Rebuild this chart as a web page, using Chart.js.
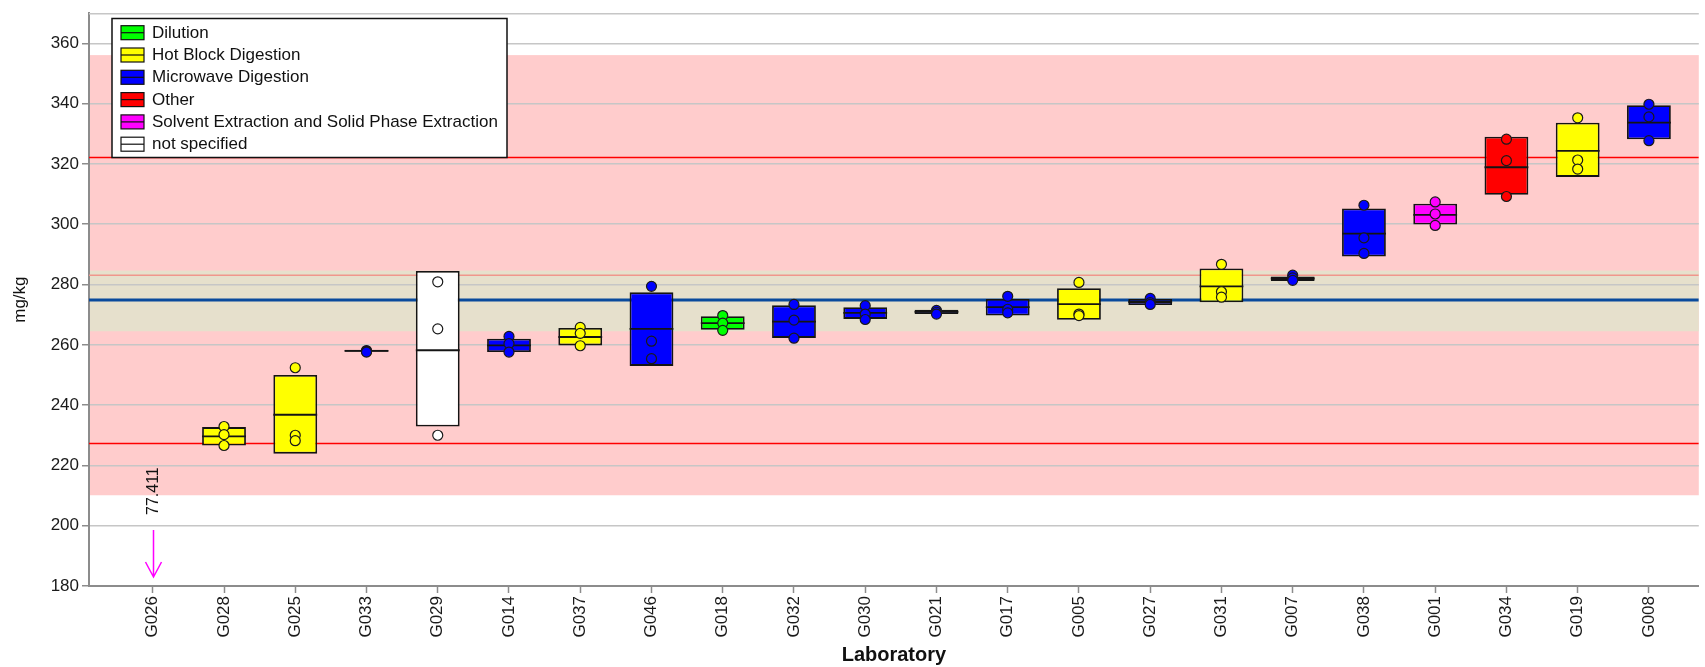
<!DOCTYPE html>
<html>
<head>
<meta charset="utf-8">
<script src="https://cdn.jsdelivr.net/npm/chart.js@4.4.1/dist/chart.umd.min.js"></script>
<style>
  html, body { margin: 0; padding: 0; background: #ffffff; }
  #wrap { width: 1705px; height: 667px; }
</style>
</head>
<body>
<div id="wrap"><canvas id="chart" width="1705" height="667"></canvas></div>
<script>
// Laboratories in plotting order
const labs = ['G026','G028','G025','G033','G029','G014','G037','G046','G018','G032','G030',
              'G021','G017','G005','G027','G031','G007','G038','G001','G034','G019','G008'];

// Sample preparation methods and their colours
const methods = ['Dilution', 'Hot Block Digestion', 'Microwave Digestion', 'Other',
                 'Solvent Extraction and Solid Phase Extraction', 'not specified'];
const methodColors = ['#00ff00', '#ffff00', '#0000ff', '#ff0000', '#ff00ff', '#ffffff'];

// Method index for each laboratory (null = no box drawn)
const labMethod = [null, 1, 1, 2, 5, 2, 1, 2, 0, 2, 2, 2, 2, 1, 2, 1, 2, 2, 4, 3, 1, 2];

// Box: mean and mean +/- standard deviation (mg/kg)
const boxLow  = [null, 226.6, 223.9, 257.7, 232.9, 257.6, 259.8, 253.0, 265.0, 262.3, 268.6,
                 270.2, 269.7, 268.3, 273.2, 274.1, 281.2, 289.3, 299.9, 309.8, 315.7, 328.2];
const boxMean = [null, 229.6, 236.8, 258.0, 258.2, 259.8, 262.6, 265.3, 267.2, 267.7, 270.6,
                 270.9, 272.5, 273.5, 274.2, 279.4, 282.0, 296.9, 303.1, 318.9, 324.3, 333.7];
const boxHigh = [null, 232.7, 250.0, 258.4, 284.5, 262.0, 265.6, 277.4, 269.5, 273.1, 272.5,
                 271.6, 275.2, 278.8, 275.2, 285.3, 282.7, 305.2, 306.8, 329.0, 333.7, 339.5];

// Individual replicate results (mg/kg)
const replicate1 = [null, 232.9, 252.4, 258.1, 280.9, 262.8, 265.8, 279.4, 269.7, 273.4, 273.0,
                    271.4, 276.1, 280.7, 275.4, 286.7, 283.1, 306.3, 307.4, 328.2, 335.3, 339.8];
const replicate2 = [null, 230.2, 230.0, 257.8, 265.3, 260.4, 263.8, 261.2, 267.2, 268.2, 270.2,
                    270.8, 271.8, 270.2, 274.0, 277.6, 282.2, 295.5, 303.4, 321.1, 321.3, 335.6];
const replicate3 = [null, 226.6, 228.2, 257.6, 230.0, 257.6, 259.7, 255.4, 264.8, 262.2, 268.4,
                    270.2, 270.6, 269.7, 273.4, 275.8, 281.4, 290.3, 299.6, 309.2, 318.3, 327.7];

// Results that fall outside the value axis
const offScaleLabs   = ['G026'];
const offScaleValues = [77.411];

// Assigned value, limits and shaded ranges (mg/kg)
const assignedValue   = 274.9;
const uncertaintyBand = [264.5, 284.6];
const uncertaintyEdge = 283.1;
const limitLines      = [227.3, 322.1];
const outerBand       = [210.1, 356.1];

// Value axis
const yMin = 180, yMax = 370;
const yTickValues = [180, 200, 220, 240, 260, 280, 300, 320, 340, 360];

// Index axis range
const xMin = -0.895, xMax = 21.7;
const BOX_FRACTION = 0.615;

const FONT = '"Liberation Sans", Arial, Helvetica, sans-serif';
Chart.defaults.font.family = FONT;

// ---- datasets ----
function refLine(value, color, width) {
  return {
    type: 'line', order: 10,
    data: [{ x: xMin, y: value }, { x: xMax, y: value }],
    borderColor: color, borderWidth: width, pointRadius: 0, fill: false, tension: 0
  };
}

const datasets = [];
datasets.push(refLine(uncertaintyEdge, '#f0968c', 1.5));
datasets.push(refLine(limitLines[0], '#ff0000', 1.5));
datasets.push(refLine(limitLines[1], '#ff0000', 1.5));
datasets.push(refLine(assignedValue, '#0a4a9c', 3));

methods.forEach((m, mi) => {
  const data = [];
  labs.forEach((lab, i) => {
    if (labMethod[i] === mi && boxLow[i] != null) data.push({ x: i, y: [boxLow[i], boxHigh[i]] });
  });
  datasets.push({
    type: 'bar', label: m, order: 5, data,
    backgroundColor: methodColors[mi], borderColor: '#141414', borderWidth: 1.8,
    borderSkipped: false, grouped: false, barPercentage: BOX_FRACTION, categoryPercentage: 1
  });
});

const meanData = [];
labs.forEach((lab, i) => { if (boxMean[i] != null) meanData.push({ x: i, y: boxMean[i] }); });
datasets.push({
  type: 'scatter', order: 3, data: meanData,
  pointStyle: 'line',
  pointRadius: (c) => {
    const sx = c.chart.scales.x;
    return Math.abs(sx.getPixelForValue(1) - sx.getPixelForValue(0)) * BOX_FRACTION / 2;
  },
  pointHoverRadius: 0,
  borderColor: '#141414', borderWidth: 1.8, showLine: false
});

const repData = [];
labs.forEach((lab, i) => {
  [replicate1, replicate2, replicate3].forEach(r => {
    if (r[i] != null) repData.push({ x: i, y: r[i], m: labMethod[i] });
  });
});
datasets.push({
  type: 'scatter', order: 1, data: repData,
  pointStyle: 'circle', pointRadius: 5, pointHoverRadius: 5,
  backgroundColor: (c) => c.raw ? methodColors[c.raw.m] : '#fff',
  borderColor: '#1a1a1a', borderWidth: 1.2, showLine: false
});

// ---- plugins ----
const bandsPlugin = {
  id: 'bands',
  beforeDraw(chart) {
    const { ctx, chartArea: a, scales: { y } } = chart;
    ctx.save();
    ctx.fillStyle = '#ffffff';
    ctx.fillRect(0, 0, chart.width, chart.height);
    const band = (lo, hi, color) => {
      const t = y.getPixelForValue(hi), b = y.getPixelForValue(lo);
      ctx.fillStyle = color;
      ctx.fillRect(a.left, t, a.right - a.left, b - t);
    };
    band(outerBand[0], outerBand[1], '#ffcccc');
    band(uncertaintyBand[0], uncertaintyBand[1], '#e6e0cc');
    ctx.restore();
  },
  beforeDatasetsDraw(chart) {
    // top frame of the plot area
    const { ctx, chartArea: a } = chart;
    ctx.save();
    ctx.strokeStyle = '#c6c6c6';
    ctx.lineWidth = 1.5;
    ctx.beginPath();
    ctx.moveTo(a.left, a.top + 0.5);
    ctx.lineTo(a.right, a.top + 0.5);
    ctx.stroke();
    ctx.restore();
  }
};

const offScalePlugin = {
  id: 'offScale',
  afterDatasetsDraw(chart) {
    const { ctx, scales: { x, y } } = chart;
    ctx.save();
    offScaleLabs.forEach((lab, k) => {
      const v = offScaleValues[k];
      const px = Math.round(x.getPixelForValue(labs.indexOf(lab))) + 0.5;
      const below = v < y.min;
      const tip = below ? y.getPixelForValue(y.min) - 9 : y.getPixelForValue(y.max) + 9;
      const dir = below ? 1 : -1;
      const tail = tip - dir * 47;
      ctx.strokeStyle = '#ff00ff';
      ctx.lineWidth = 1.5;
      ctx.beginPath();
      ctx.moveTo(px, tail); ctx.lineTo(px, tip);
      ctx.moveTo(px - 8, tip - dir * 15); ctx.lineTo(px, tip); ctx.lineTo(px + 8, tip - dir * 15);
      ctx.stroke();
      ctx.translate(px, tail - dir * 15);
      ctx.rotate(-Math.PI / 2);
      ctx.fillStyle = '#111';
      ctx.font = '16px ' + FONT;
      ctx.textAlign = below ? 'left' : 'right';
      ctx.textBaseline = 'middle';
      ctx.fillText(v.toFixed(3), 0, 0);
      ctx.setTransform(1, 0, 0, 1, 0, 0);
    });
    ctx.restore();
  }
};

const legendPlugin = {
  id: 'methodLegend',
  afterDraw(chart) {
    const ctx = chart.ctx;
    ctx.save();
    const x0 = 112, y0 = 18.5, w = 395, h = 139;
    ctx.fillStyle = '#ffffff';
    ctx.fillRect(x0, y0, w, h);
    ctx.strokeStyle = '#111';
    ctx.lineWidth = 1.5;
    ctx.strokeRect(x0, y0, w, h);
    ctx.font = '17px ' + FONT;
    ctx.textBaseline = 'middle';
    methods.forEach((m, i) => {
      const cy = 32.7 + i * 22.3;
      ctx.fillStyle = methodColors[i];
      ctx.fillRect(121, cy - 7, 23, 14);
      ctx.strokeStyle = '#111';
      ctx.lineWidth = 1.2;
      ctx.strokeRect(121, cy - 7, 23, 14);
      ctx.beginPath();
      ctx.moveTo(121, cy); ctx.lineTo(144, cy);
      ctx.stroke();
      ctx.fillStyle = '#111';
      ctx.fillText(m, 152, cy + 0.5);
    });
    ctx.restore();
  }
};

// ---- chart ----
new Chart(document.getElementById('chart'), {
  data: { datasets },
  options: {
    responsive: false,
    animation: false,
    devicePixelRatio: 1,
    layout: { padding: { top: 9, right: 0, left: 0, bottom: 0 } },
    plugins: { legend: { display: false }, tooltip: { enabled: false } },
    scales: {
      x: {
        type: 'linear', min: xMin, max: xMax, offset: false,
        afterBuildTicks: (s) => { s.ticks = labs.map((_, i) => ({ value: i })); },
        afterFit: (s) => { s.height = 81; },
        grid: { offset: false, drawOnChartArea: false, drawTicks: true, tickLength: 7, tickColor: '#8c8c8c', tickWidth: 1.5 },
        border: { color: '#8c8c8c', width: 2 },
        ticks: {
          autoSkip: false, minRotation: 90, maxRotation: 90, padding: 3,
          font: { size: 17 }, color: '#1a1a1a',
          callback: (v) => labs[v] ?? ''
        },
        title: {
          display: true, text: 'Laboratory', color: '#111',
          font: { size: 20, weight: 'bold', lineHeight: 1.15 }, padding: { top: 0, bottom: 0 }
        }
      },
      y: {
        type: 'linear', min: yMin, max: yMax,
        afterBuildTicks: (s) => { s.ticks = yTickValues.map(v => ({ value: v })); },
        afterFit: (s) => { s.width = 89; },
        grid: { color: '#c6c6c6', lineWidth: 1.5, drawTicks: true, tickLength: 7, tickColor: '#8c8c8c', tickWidth: 1.5 },
        border: { color: '#8c8c8c', width: 2 },
        ticks: { padding: 3, font: { size: 17 }, color: '#1a1a1a' },
        title: {
          display: true, text: 'mg/kg', color: '#111',
          font: { size: 17 }, padding: { top: 10, bottom: 0 }
        }
      }
    }
  },
  plugins: [bandsPlugin, offScalePlugin, legendPlugin]
});
</script>
</body>
</html>
